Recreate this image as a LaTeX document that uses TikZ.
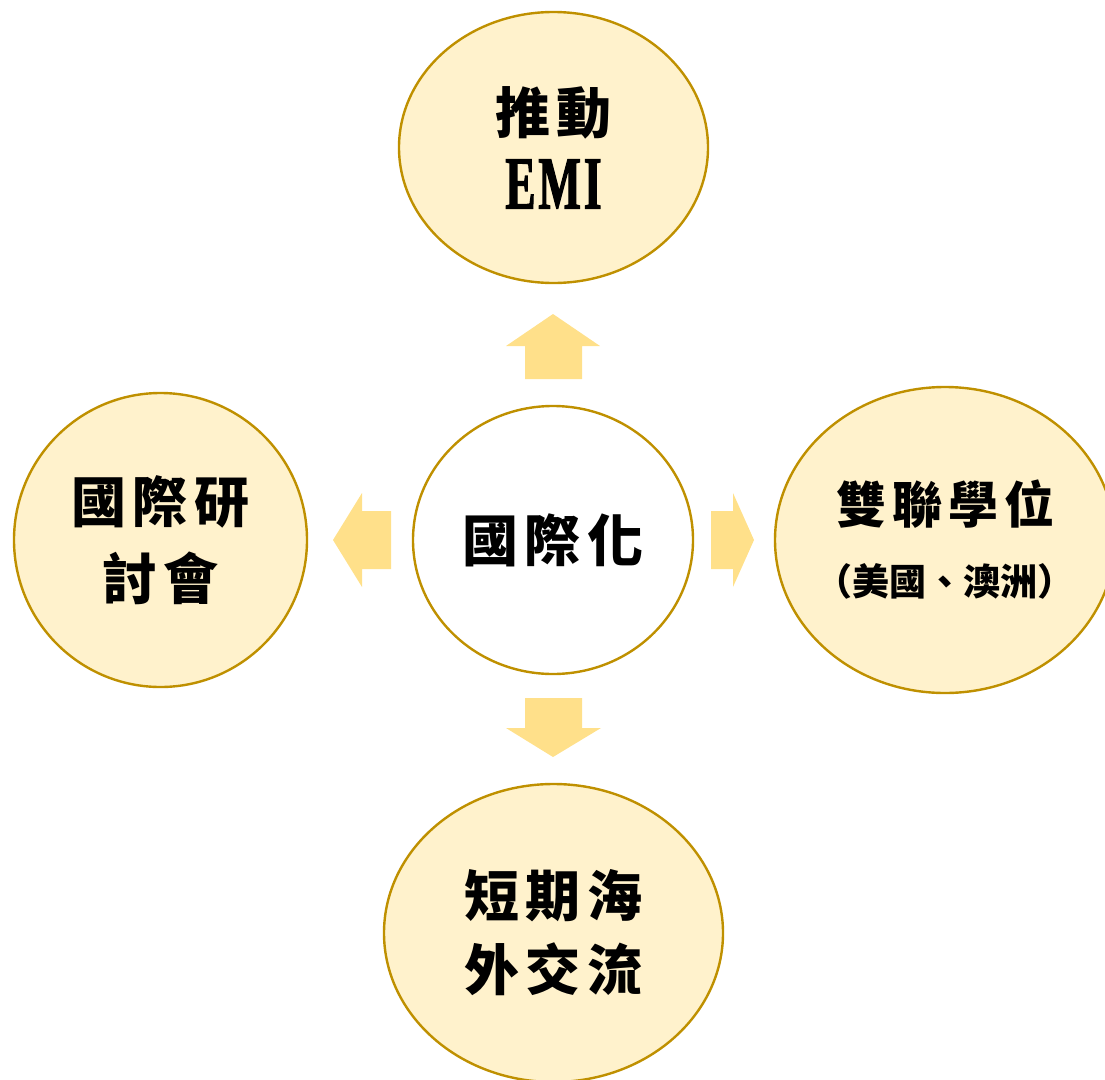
\documentclass[tikz,border=0pt]{standalone}
\usepackage{fontspec}
\usetikzlibrary{shapes.geometric}
\newfontfamily\cjkb{Noto Sans CJK TC}[LetterSpace=12]
\newfontfamily\cjks{Noto Sans CJK TC}
\newfontfamily\emif{Liberation Serif}[FakeStretch=0.6,FakeBold=1.5,LetterSpace=4]
\definecolor{goldline}{HTML}{BF9000}
\definecolor{goldfill}{HTML}{FFF2CC}
\definecolor{arrowgold}{HTML}{FFE08A}
\begin{document}
\begin{tikzpicture}[x=1pt,y=-1pt,
  bubble/.style={ellipse,draw=goldline,line width=2.4pt,fill=goldfill,inner sep=0pt,align=center,text=black},
  hub/.style={ellipse,draw=goldline,line width=2.4pt,fill=white,inner sep=0pt,align=center,text=black},
  blockarrow/.style={fill=arrowgold,draw=none}]
\useasboundingbox (0,0) rectangle (1105,1079);
\clip (0,0) rectangle (1105,1079);
% center
\node[hub,minimum width=280pt,minimum height=268pt,font=\cjkb\bfseries\fontsize{56}{70}\selectfont] (c) at (553,540) {國際化};
% top
\node[bubble,minimum width=309pt,minimum height=271pt,font=\cjkb\bfseries\fontsize{55}{75}\selectfont] (t) at (553.5,147.5) {推動\\{\emif\bfseries\fontsize{75}{75}\selectfont EMI}};
% left
\node[bubble,minimum width=293pt,minimum height=294pt,font=\cjkb\bfseries\fontsize{55}{77}\selectfont] (l) at (160.5,540) {國際研\\討會};
% right
\node[bubble,minimum width=340pt,minimum height=306pt,font=\cjkb\bfseries\fontsize{50}{72}\selectfont] (r) at (945,540) {雙聯學位\\\makebox[200pt][c]{\cjks\bfseries\fontsize{37}{72}\selectfont （美國、澳洲）}};
% bottom
\node[bubble,minimum width=339pt,minimum height=298pt,font=\cjkb\bfseries\fontsize{55}{74}\selectfont] (b) at (553.5,933) {短期海\\外交流};
% block arrows
\fill[blockarrow] (553,314) -- (600,346) -- (582,346) -- (582,379) -- (525,379) -- (525,346) -- (506,346) -- cycle;
\fill[blockarrow] (525,698) -- (582,698) -- (582,728) -- (601,728) -- (553,757) -- (506,728) -- (525,728) -- cycle;
\fill[blockarrow] (333,540) -- (362,493) -- (362,511) -- (391,511) -- (391,569) -- (362,569) -- (362,587) -- cycle;
\fill[blockarrow] (711,511) -- (733,511) -- (733,493) -- (754,540) -- (733,587) -- (733,569) -- (711,569) -- cycle;
\end{tikzpicture}
\end{document}
